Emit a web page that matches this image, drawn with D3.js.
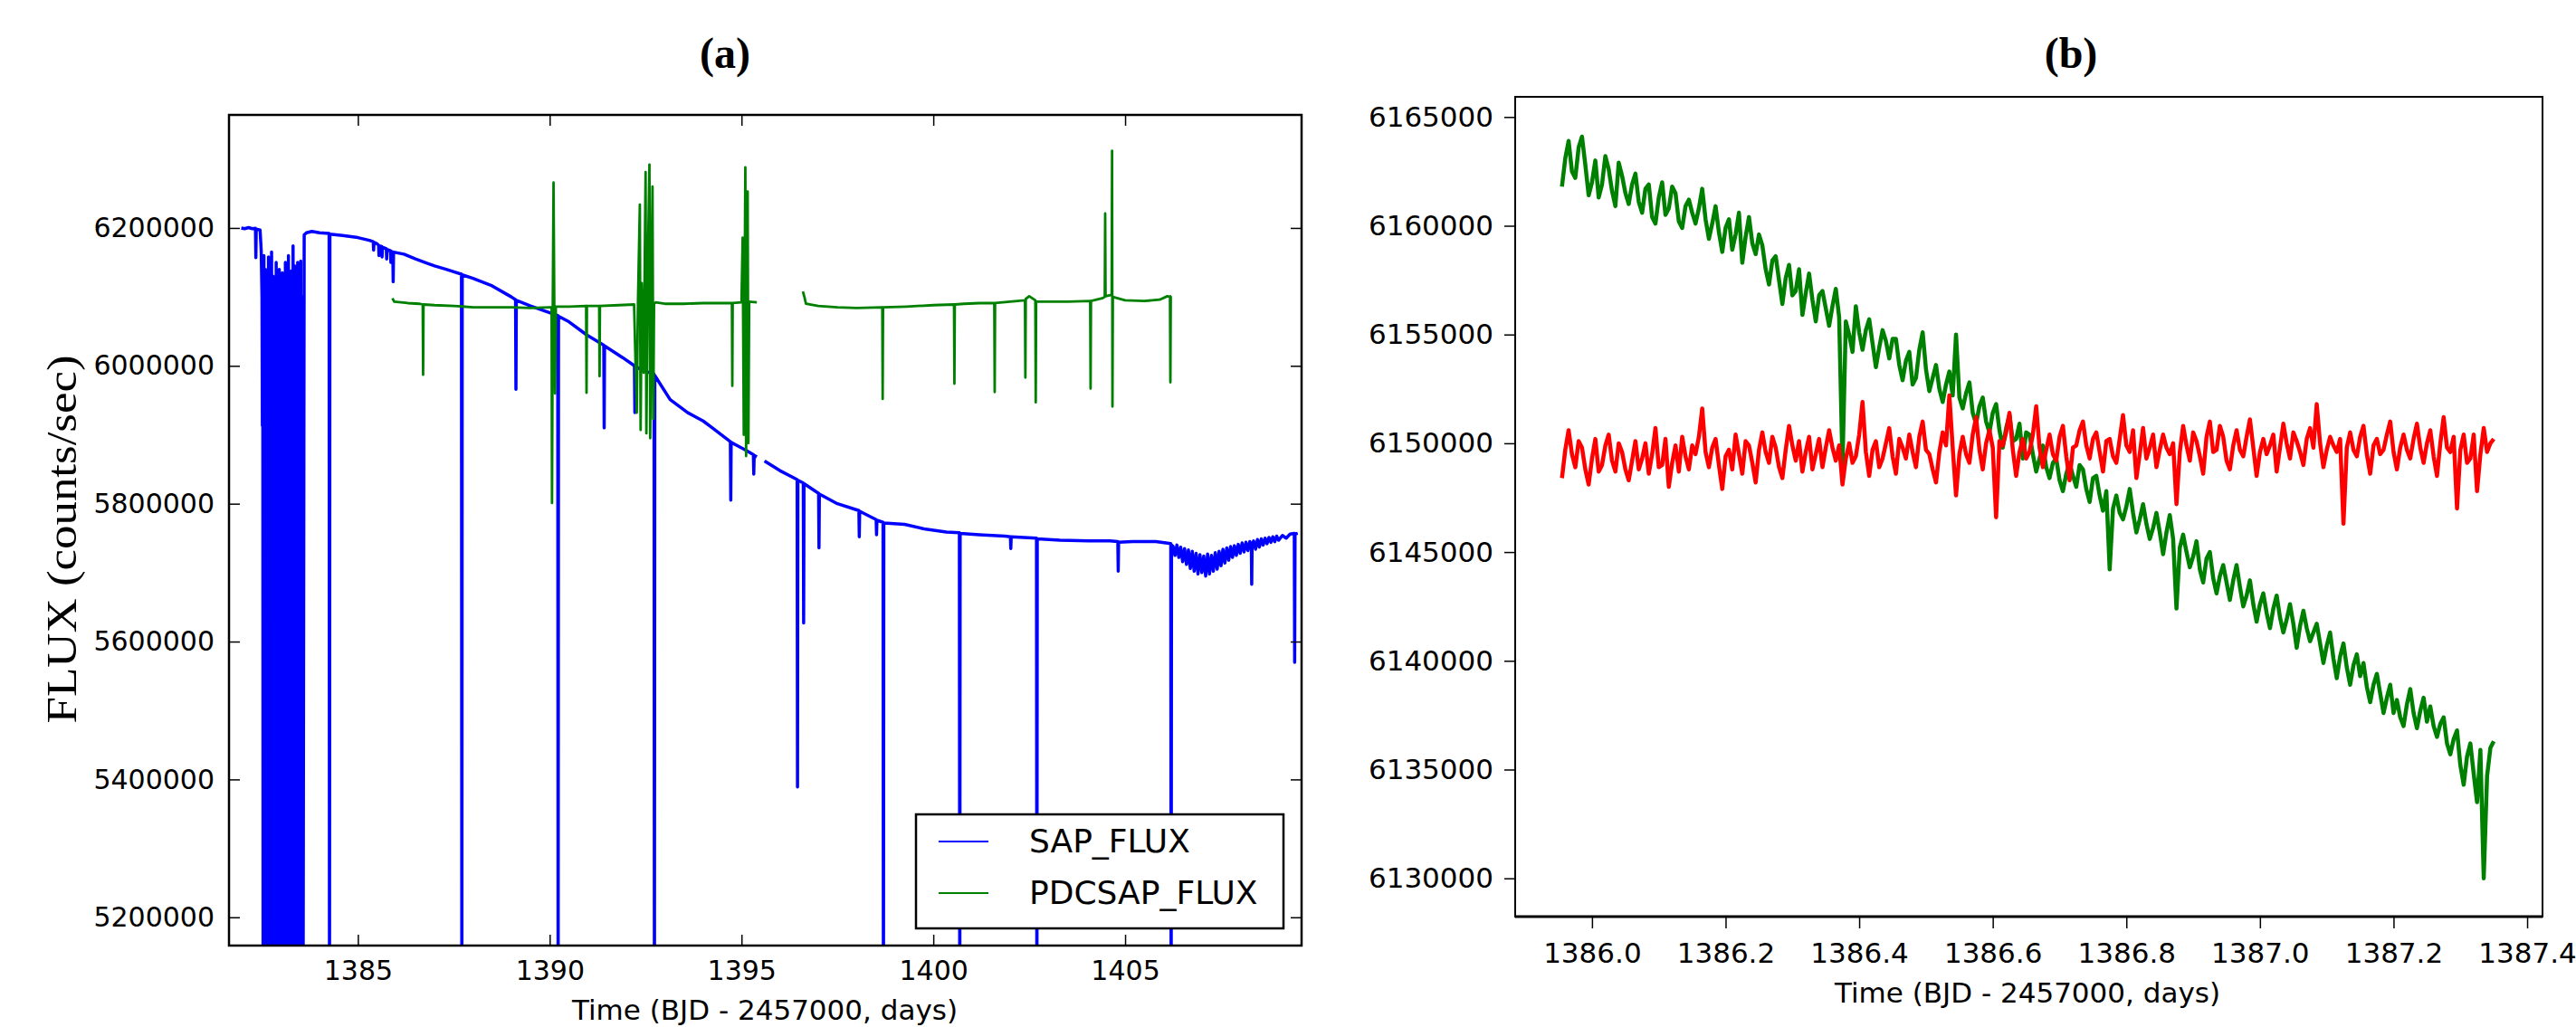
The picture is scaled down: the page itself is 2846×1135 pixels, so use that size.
<!DOCTYPE html>
<html>
<head>
<meta charset="utf-8">
<script src="https://cdn.jsdelivr.net/npm/d3@7"></script>
<style>
  body { margin: 0; background: #fff; }
  svg { display: block; }
</style>
</head>
<body>
<svg id="chart"></svg>
<script>
// ---- panel (a): full light curve, [time, flux] ----
const sapPoints = [
  [1381.96, 6200000], [1382.05, 6199000], [1382.15, 6200500], [1382.25, 6199000], [1382.33, 6199500],
  [1382.34, 6157000], [1382.35, 6198500], [1382.45, 6197000], [1382.48, 6167000], [1382.50, 6100000],
  [1382.51, 5913000], [1382.52, 6150000], [1382.53, 5000000], [1382.55, 6160000], [1382.57, 5000000],
  [1382.59, 6140000], [1382.61, 5000000], [1382.63, 6120000], [1382.65, 5000000], [1382.67, 6158000],
  [1382.69, 5000000], [1382.71, 6110000], [1382.73, 5000000], [1382.75, 6165000], [1382.77, 5000000],
  [1382.79, 6130000], [1382.81, 5000000], [1382.83, 6100000], [1382.85, 5000000], [1382.87, 6150000],
  [1382.89, 5000000], [1382.91, 6090000], [1382.93, 5000000], [1382.95, 6140000], [1382.97, 5000000],
  [1382.99, 6120000], [1383.01, 5000000], [1383.03, 6135000], [1383.05, 5000000], [1383.07, 6105000],
  [1383.09, 5000000], [1383.11, 6150000], [1383.13, 5000000], [1383.15, 6125000], [1383.17, 5000000],
  [1383.19, 6160000], [1383.21, 5000000], [1383.23, 6110000], [1383.25, 5000000], [1383.27, 6138000],
  [1383.29, 5000000], [1383.31, 6174000], [1383.33, 5000000], [1383.35, 6145000], [1383.37, 5000000],
  [1383.39, 6128000], [1383.41, 5000000], [1383.43, 6150000], [1383.45, 5000000], [1383.47, 6118000],
  [1383.49, 5000000], [1383.51, 6152000], [1383.53, 5000000], [1383.55, 6100000], [1383.57, 5000000],
  [1383.60, 6190000], [1383.66, 6193000], [1383.80, 6195000], [1384.00, 6193000], [1384.25, 6192000],
  [1384.26, 5000000], [1384.27, 6191000], [1384.60, 6189000], [1385.00, 6186000], [1385.30, 6182000],
  [1385.40, 6180000], [1385.41, 6168000], [1385.42, 6179000], [1385.50, 6177000], [1385.54, 6175000],
  [1385.55, 6160000], [1385.56, 6174000], [1385.62, 6173000], [1385.63, 6158000], [1385.64, 6172000],
  [1385.74, 6170000], [1385.75, 6155000], [1385.76, 6169000], [1385.85, 6167000], [1385.86, 6150000],
  [1385.87, 6166000], [1385.91, 6165000], [1385.92, 6122000], [1385.93, 6165000], [1386.20, 6162000],
  [1386.50, 6155000], [1386.80, 6149000], [1387.00, 6145000], [1387.30, 6140000], [1387.70, 6133000],
  [1387.71, 5000000], [1387.72, 6132000], [1388.00, 6127000], [1388.50, 6116000], [1389.00, 6100000],
  [1389.11, 6096000], [1389.12, 5966000], [1389.13, 6095000], [1389.50, 6087000], [1390.00, 6077000],
  [1390.21, 6073000], [1390.22, 5000000], [1390.23, 6072000], [1390.50, 6064000], [1390.96, 6045000],
  [1391.41, 6030000], [1391.42, 5910000], [1391.43, 6029000], [1391.90, 6012000], [1392.21, 6000000],
  [1392.22, 5932000], [1392.23, 5999000], [1392.50, 5992000], [1392.72, 5988000], [1392.73, 5000000],
  [1392.74, 5986000], [1393.14, 5951000], [1393.60, 5932000], [1394.00, 5920000], [1394.24, 5910000],
  [1394.71, 5890000], [1394.72, 5805000], [1394.73, 5889000], [1394.90, 5884000], [1395.10, 5878000],
  [1395.31, 5871000], [1395.32, 5843000], [1395.33, 5870000], [1395.40, 5868000], [1395.45, null],
  [1395.60, 5862000], [1396.00, 5848000], [1396.45, 5835000], [1396.46, 5389000], [1396.47, 5834000],
  [1396.61, 5830000], [1396.62, 5627000], [1396.63, 5829000], [1397.01, 5815000], [1397.02, 5736000],
  [1397.03, 5814000], [1397.50, 5800000], [1398.06, 5790000], [1398.07, 5752000], [1398.08, 5789000],
  [1398.51, 5777000], [1398.52, 5755000], [1398.53, 5776000], [1398.69, 5773000], [1398.70, 5000000],
  [1398.71, 5772000], [1399.25, 5770000], [1399.80, 5763000], [1400.34, 5759000], [1400.68, 5758000],
  [1400.69, 5000000], [1400.70, 5757000], [1401.20, 5755000], [1401.87, 5753000], [1402.01, 5752000],
  [1402.02, 5735000], [1402.03, 5752000], [1402.69, 5750000], [1402.70, 5000000], [1402.71, 5749000],
  [1403.30, 5747000], [1404.05, 5746000], [1404.60, 5746000], [1404.81, 5745000], [1404.82, 5702000],
  [1404.83, 5744000], [1405.20, 5745000], [1405.80, 5745000], [1406.19, 5742000], [1406.20, 5000000],
  [1406.21, 5740000], [1406.25, 5738000], [1406.30, 5725000], [1406.35, 5740000], [1406.40, 5722000],
  [1406.45, 5737000], [1406.50, 5716000], [1406.55, 5735000], [1406.60, 5712000], [1406.65, 5733000],
  [1406.70, 5706000], [1406.75, 5731000], [1406.80, 5702000], [1406.85, 5728000], [1406.90, 5698000],
  [1406.95, 5726000], [1407.00, 5700000], [1407.05, 5724000], [1407.10, 5695000], [1407.15, 5727000],
  [1407.20, 5698000], [1407.25, 5725000], [1407.30, 5702000], [1407.35, 5729000], [1407.40, 5705000],
  [1407.45, 5731000], [1407.50, 5710000], [1407.55, 5734000], [1407.60, 5714000], [1407.65, 5736000],
  [1407.70, 5718000], [1407.75, 5738000], [1407.80, 5722000], [1407.85, 5739000], [1407.90, 5725000],
  [1407.95, 5741000], [1408.00, 5728000], [1408.05, 5743000], [1408.10, 5730000], [1408.15, 5744000],
  [1408.20, 5732000], [1408.25, 5745000], [1408.29, 5740000], [1408.30, 5683000], [1408.31, 5740000],
  [1408.35, 5746000], [1408.40, 5734000], [1408.45, 5748000], [1408.50, 5737000], [1408.55, 5749000],
  [1408.60, 5740000], [1408.65, 5750000], [1408.70, 5742000], [1408.75, 5751000], [1408.80, 5744000],
  [1408.85, 5752000], [1408.90, 5745000], [1408.95, 5753000], [1409.00, 5747000], [1409.10, 5754000],
  [1409.20, 5750000], [1409.30, 5756000], [1409.41, 5757000], [1409.42, 5570000], [1409.43, 5756000],
  [1409.50, 5757000]
];
const pdcPoints = [
  [1385.90, 6098000], [1385.95, 6093000], [1386.30, 6091000], [1386.60, 6090000], [1386.69, 6089000],
  [1386.70, 5987000], [1386.71, 6089000], [1387.00, 6088000], [1387.50, 6087000], [1388.00, 6085000],
  [1388.50, 6085000], [1389.00, 6085000], [1389.50, 6084000], [1390.00, 6085000], [1390.05, 6085000],
  [1390.06, 5801000], [1390.08, 6085000], [1390.10, 6266000], [1390.12, 6086000], [1390.14, 5960000],
  [1390.16, 6086000], [1390.50, 6086000], [1390.95, 6087000], [1390.96, 5961000], [1390.97, 6087000],
  [1391.29, 6087000], [1391.30, 5985000], [1391.31, 6087000], [1391.80, 6088000], [1392.20, 6089000],
  [1392.27, 5932000], [1392.30, 6089000], [1392.35, 6234000], [1392.37, 5907000], [1392.40, 6120000],
  [1392.45, 5990000], [1392.50, 6281000], [1392.52, 5902000], [1392.56, 6150000], [1392.60, 6292000],
  [1392.62, 5895000], [1392.65, 6100000], [1392.68, 6260000], [1392.70, 5923000], [1392.72, 6090000],
  [1392.76, 6092000], [1393.00, 6090000], [1393.50, 6090000], [1394.00, 6091000], [1394.50, 6091000],
  [1394.75, 6091000], [1394.76, 5971000], [1394.77, 6091000], [1395.00, 6092000], [1395.03, 6186000],
  [1395.06, 5900000], [1395.10, 6288000], [1395.12, 5869000], [1395.16, 6253000], [1395.18, 5888000],
  [1395.20, 6093000], [1395.40, 6092000], [1396.00, null], [1396.60, 6108000], [1396.64, 6100000],
  [1396.68, 6090000], [1397.00, 6087000], [1397.50, 6085000], [1398.00, 6084000], [1398.67, 6085000],
  [1398.68, 5952000], [1398.69, 6085000], [1399.30, 6086000], [1400.00, 6088000], [1400.54, 6089000],
  [1400.55, 5974000], [1400.56, 6089000], [1400.80, 6090000], [1401.20, 6091000], [1401.59, 6091000],
  [1401.60, 5962000], [1401.61, 6091000], [1402.00, 6093000], [1402.39, 6095000], [1402.40, 5983000],
  [1402.41, 6097000], [1402.50, 6101000], [1402.66, 6095000], [1402.67, 5947000], [1402.68, 6093000],
  [1403.00, 6093000], [1403.50, 6093000], [1404.09, 6094000], [1404.10, 5967000], [1404.11, 6094000],
  [1404.40, 6098000], [1404.47, 6100000], [1404.48, 6221000], [1404.49, 6101000], [1404.65, 6103000],
  [1404.66, 6312000], [1404.67, 5941000], [1404.68, 6100000], [1405.00, 6095000], [1405.50, 6094000],
  [1405.90, 6096000], [1406.10, 6101000], [1406.17, 6100000], [1406.18, 5976000], [1406.19, 6101000],
  [1406.20, 6101000]
];
const aTicksX = [1385, 1390, 1395, 1400, 1405];
const aTicksY = [5200000, 5400000, 5600000, 5800000, 6000000, 6200000];
const legendLabels = ["SAP_FLUX", "PDCSAP_FLUX"];

// ---- panel (b): zoom on one day ----
const zoomTime = [
  1385.955, 1385.960, 1385.965, 1385.970, 1385.975, 1385.980, 1385.985, 1385.990, 1385.995, 1386.000,
  1386.005, 1386.010, 1386.015, 1386.020, 1386.025, 1386.030, 1386.035, 1386.040, 1386.045, 1386.050,
  1386.055, 1386.060, 1386.065, 1386.070, 1386.075, 1386.080, 1386.085, 1386.090, 1386.095, 1386.100,
  1386.105, 1386.110, 1386.115, 1386.120, 1386.125, 1386.130, 1386.135, 1386.140, 1386.145, 1386.150,
  1386.155, 1386.160, 1386.165, 1386.170, 1386.175, 1386.180, 1386.185, 1386.190, 1386.195, 1386.200,
  1386.205, 1386.210, 1386.215, 1386.220, 1386.225, 1386.230, 1386.235, 1386.240, 1386.245, 1386.250,
  1386.255, 1386.260, 1386.265, 1386.270, 1386.275, 1386.280, 1386.285, 1386.290, 1386.295, 1386.300,
  1386.305, 1386.310, 1386.315, 1386.320, 1386.325, 1386.330, 1386.335, 1386.340, 1386.345, 1386.350,
  1386.355, 1386.360, 1386.365, 1386.370, 1386.375, 1386.380, 1386.385, 1386.390, 1386.395, 1386.400,
  1386.405, 1386.410, 1386.415, 1386.420, 1386.425, 1386.430, 1386.435, 1386.440, 1386.445, 1386.450,
  1386.455, 1386.460, 1386.465, 1386.470, 1386.475, 1386.480, 1386.485, 1386.490, 1386.495, 1386.500,
  1386.505, 1386.510, 1386.515, 1386.520, 1386.525, 1386.530, 1386.535, 1386.540, 1386.545, 1386.550,
  1386.555, 1386.560, 1386.565, 1386.570, 1386.575, 1386.580, 1386.585, 1386.590, 1386.595, 1386.600,
  1386.605, 1386.610, 1386.615, 1386.620, 1386.625, 1386.630, 1386.635, 1386.640, 1386.645, 1386.650,
  1386.655, 1386.660, 1386.665, 1386.670, 1386.675, 1386.680, 1386.685, 1386.690, 1386.695, 1386.700,
  1386.705, 1386.710, 1386.715, 1386.720, 1386.725, 1386.730, 1386.735, 1386.740, 1386.745, 1386.750,
  1386.755, 1386.760, 1386.765, 1386.770, 1386.775, 1386.780, 1386.785, 1386.790, 1386.795, 1386.800,
  1386.805, 1386.810, 1386.815, 1386.820, 1386.825, 1386.830, 1386.835, 1386.840, 1386.845, 1386.850,
  1386.855, 1386.860, 1386.865, 1386.870, 1386.875, 1386.880, 1386.885, 1386.890, 1386.895, 1386.900,
  1386.905, 1386.910, 1386.915, 1386.920, 1386.925, 1386.930, 1386.935, 1386.940, 1386.945, 1386.950,
  1386.955, 1386.960, 1386.965, 1386.970, 1386.975, 1386.980, 1386.985, 1386.990, 1386.995, 1387.000,
  1387.005, 1387.010, 1387.015, 1387.020, 1387.025, 1387.030, 1387.035, 1387.040, 1387.045, 1387.050,
  1387.055, 1387.060, 1387.065, 1387.070, 1387.075, 1387.080, 1387.085, 1387.090, 1387.095, 1387.100,
  1387.105, 1387.110, 1387.115, 1387.120, 1387.125, 1387.130, 1387.135, 1387.140, 1387.145, 1387.150,
  1387.155, 1387.160, 1387.165, 1387.170, 1387.175, 1387.180, 1387.185, 1387.190, 1387.195, 1387.200,
  1387.205, 1387.210, 1387.215, 1387.220, 1387.225, 1387.230, 1387.235, 1387.240, 1387.245, 1387.250,
  1387.255, 1387.260, 1387.265, 1387.270, 1387.275, 1387.280, 1387.285, 1387.290, 1387.295, 1387.300,
  1387.305, 1387.310, 1387.315, 1387.320, 1387.325, 1387.330, 1387.335, 1387.340, 1387.345, 1387.350
];
const zoomGreen = [
  6161800, 6163100, 6163900, 6162500, 6162200, 6163600, 6164100, 6162800, 6161400, 6162000,
  6163000, 6161300, 6161900, 6163200, 6162600, 6161600, 6160900, 6162900, 6162300, 6161500,
  6161000, 6161900, 6162400, 6161100, 6160600, 6161700, 6161900, 6160400, 6160100, 6161300,
  6162000, 6160500, 6160800, 6161800, 6161500, 6160200, 6159900, 6160900, 6161200, 6160600,
  6160100, 6160800, 6161700, 6160300, 6159400, 6160100, 6160900, 6159700, 6158800, 6159900,
  6160300, 6158900, 6159600, 6160600, 6158300, 6159500, 6160400, 6159200, 6158700, 6159600,
  6159100, 6158000, 6157300, 6158400, 6158600, 6157500, 6156400, 6157600, 6158200, 6156800,
  6157000, 6158000, 6155900, 6156900, 6157800, 6156600, 6155600, 6156800, 6157000, 6156200,
  6155400, 6156300, 6157100, 6155800, 6149000, 6155600, 6155000, 6154200, 6156300, 6155100,
  6154300, 6155200, 6155700, 6154600, 6153500, 6154400, 6155200, 6154700, 6153900, 6154800,
  6154800, 6153600, 6152900, 6153800, 6154200, 6152700, 6153000, 6154300, 6155100, 6153400,
  6152400, 6153000, 6153600, 6152500, 6151900, 6152700, 6153300, 6152200, 6155000, 6152100,
  6151600, 6152300, 6152800, 6151400, 6150900, 6151700, 6152100, 6151000, 6150500, 6151400,
  6151800, 6150600, 6149800, 6150700, 6151300, 6150100, 6150200, 6150900, 6149300, 6150500,
  6150400, 6149500, 6148700, 6149300, 6149900, 6148900, 6148400, 6149100, 6149300, 6148300,
  6147800, 6148600, 6149100, 6148500, 6148000, 6149000, 6148800, 6147900, 6147300, 6148400,
  6148500, 6147600, 6146900, 6147800, 6144200, 6147000, 6147600, 6146800, 6146500, 6147100,
  6147900, 6146800, 6145900, 6146500, 6147200, 6146300, 6145600, 6146100, 6146800, 6145900,
  6144900, 6145900, 6146700, 6145600, 6142400, 6145200, 6145800, 6145000, 6144300, 6144800,
  6145500, 6144200, 6143600, 6144700, 6145000, 6143800, 6143100, 6143900, 6144400, 6143600,
  6142800, 6143700, 6144400, 6143400, 6142500, 6143000, 6143700, 6142600, 6141800, 6142600,
  6143100, 6142200, 6141500, 6142400, 6143000, 6142000, 6141300, 6141900, 6142600, 6141700,
  6140600, 6141600, 6142300, 6141500, 6140900, 6141300, 6141700, 6140800, 6139900, 6140700,
  6141300, 6140100, 6139200, 6140200, 6140800, 6139700, 6138900, 6139800, 6140300, 6139300,
  6139900, 6138800, 6138100, 6138900, 6139400, 6138500, 6137600, 6138300, 6138900, 6137600,
  6138200, 6137400, 6137000, 6138000, 6138700, 6137600, 6136900, 6137700, 6138300, 6137200,
  6137900, 6137000, 6136500, 6137100, 6137400, 6136200, 6135700, 6136400, 6136800, 6135200,
  6134300, 6135600, 6136200, 6134800, 6133500, 6135900, 6130000, 6134700, 6136000, 6136300
];
const zoomRed = [
  6148400, 6149700, 6150600, 6149500, 6148900, 6150100, 6149800, 6148800, 6148100, 6149300,
  6150200, 6148700, 6149000, 6149900, 6150400, 6149200, 6148700, 6150000, 6149600, 6148800,
  6148300, 6149200, 6150100, 6148800, 6149300, 6150000, 6148600, 6149500, 6150700, 6148900,
  6149000, 6150200, 6148000, 6149100, 6149900, 6148700, 6150300, 6149400, 6148800, 6149900,
  6149500, 6150300, 6151600, 6149600, 6148900, 6149800, 6150200, 6149000, 6147900, 6149400,
  6149700, 6148800, 6150400, 6149500, 6148600, 6150100, 6149900, 6149100, 6148200, 6149700,
  6150500, 6149600, 6149100, 6150300, 6149800, 6148900, 6148400, 6149700, 6150800, 6149900,
  6149200, 6150100, 6148700, 6149600, 6150300, 6148800, 6149500, 6150200, 6148900, 6149800,
  6150600, 6149800, 6149200, 6149900, 6148100, 6149300, 6150000, 6149100, 6149400, 6150400,
  6151900, 6149600, 6148500, 6149700, 6150100, 6148900, 6149300, 6150000, 6150700, 6149400,
  6148600, 6150200, 6149800, 6149300, 6150400, 6149600, 6148900, 6150300, 6151000, 6149700,
  6149500, 6148800, 6148200, 6149600, 6150500, 6149900, 6152200, 6149800, 6147600, 6149500,
  6150300, 6149500, 6149100, 6150400, 6151200, 6149700, 6148800, 6150000, 6150600, 6149800,
  6146600, 6150100, 6149900, 6150500, 6151400, 6149700, 6148500, 6149600, 6150200, 6149300,
  6149600, 6150400, 6151700, 6149800, 6148900, 6149700, 6150400, 6149500, 6149200, 6150300,
  6150800, 6149400, 6148300, 6149800, 6149900, 6150600, 6151000, 6149900, 6149300, 6150200,
  6150500, 6149600, 6148700, 6150100, 6150200, 6149400, 6149100, 6150200, 6151300, 6149900,
  6149600, 6150600, 6148400, 6149500, 6150700, 6149300, 6149800, 6150400, 6148900, 6149700,
  6150400, 6149800, 6149500, 6150000, 6147200, 6149600, 6150800, 6149900, 6149200, 6150500,
  6150100, 6149400, 6148600, 6150300, 6151000, 6149600, 6149700, 6150800, 6150300, 6149200,
  6148800, 6149900, 6150600, 6149700, 6149400, 6150300, 6151100, 6149800, 6148500, 6149600,
  6150200, 6149500, 6149900, 6150400, 6148700, 6149800, 6150900, 6150000, 6149300, 6150500,
  6150100, 6149600, 6149000, 6150200, 6150700, 6149800, 6151800, 6150000, 6148900, 6149700,
  6150300, 6149900, 6149600, 6150200, 6146300, 6149800, 6150500, 6149700, 6149400, 6150300,
  6150800, 6149500, 6148600, 6149900, 6150200, 6149500, 6149700, 6150400, 6151000, 6149600,
  6148800, 6149800, 6150400, 6149700, 6149300, 6150200, 6150900, 6149800, 6149100, 6150000,
  6150600, 6149400, 6148500, 6150000, 6151200, 6149800, 6149600, 6150300, 6147000, 6149700,
  6150400, 6149100, 6149300, 6150400, 6147800, 6149500, 6150700, 6149600, 6150000, 6150200
];
const bTicksX = [1386.0, 1386.2, 1386.4, 1386.6, 1386.8, 1387.0, 1387.2, 1387.4];
const bTicksY = [6130000, 6135000, 6140000, 6145000, 6150000, 6155000, 6160000, 6165000];

const width = 2846;
const height = 1135;
const tickFont = "'DejaVu Sans', 'Liberation Sans', sans-serif";
const serifFont = "'Liberation Serif', 'Times New Roman', serif";

const svg = d3.select("#chart")
  .attr("width", width)
  .attr("height", height)
  .style("background", "#fff");

function styleAxis(g, fontSize) {
  g.select(".domain").remove();
  g.selectAll(".tick line").attr("stroke", "#000").attr("stroke-width", 1.5);
  g.selectAll(".tick text")
    .attr("fill", "#000")
    .style("font-family", tickFont)
    .style("font-size", fontSize + "px");
}

// ================= panel (a) =================
const a = { left: 253, right: 1438, top: 127, bottom: 1045 };

const xA = d3.scaleLinear().domain([1381.64, 1409.6]).range([a.left, a.right]);
const yA = d3.scaleLinear().domain([5159000, 6364000]).range([a.bottom, a.top]);

svg.append("clipPath").attr("id", "clipA")
  .append("rect")
  .attr("x", a.left).attr("y", a.top)
  .attr("width", a.right - a.left).attr("height", a.bottom - a.top);

const lineA = d3.line()
  .defined(d => d[1] !== null)
  .x(d => xA(d[0]))
  .y(d => yA(d[1]));

svg.append("path")
  .datum(sapPoints)
  .attr("clip-path", "url(#clipA)")
  .attr("fill", "none")
  .attr("stroke", "#0000ff")
  .attr("stroke-width", 3.5)
  .attr("stroke-linejoin", "round")
  .attr("d", lineA);

svg.append("path")
  .datum(pdcPoints)
  .attr("clip-path", "url(#clipA)")
  .attr("fill", "none")
  .attr("stroke", "#008000")
  .attr("stroke-width", 2.8)
  .attr("stroke-linejoin", "round")
  .attr("d", lineA);

// inward ticks on all four sides
svg.append("g")
  .attr("transform", `translate(0,${a.bottom})`)
  .call(d3.axisBottom(xA).tickValues(aTicksX).tickFormat(d3.format("d"))
    .tickSizeInner(-12).tickSizeOuter(0).tickPadding(17))
  .call(g => styleAxis(g, 30));

svg.append("g")
  .attr("transform", `translate(0,${a.top})`)
  .call(d3.axisTop(xA).tickValues(aTicksX).tickFormat("")
    .tickSizeInner(-12).tickSizeOuter(0))
  .call(g => styleAxis(g, 30));

svg.append("g")
  .attr("transform", `translate(${a.left},0)`)
  .call(d3.axisLeft(yA).tickValues(aTicksY).tickFormat(d3.format("d"))
    .tickSizeInner(-12).tickSizeOuter(0).tickPadding(16))
  .call(g => styleAxis(g, 30));

svg.append("g")
  .attr("transform", `translate(${a.right},0)`)
  .call(d3.axisRight(yA).tickValues(aTicksY).tickFormat("")
    .tickSizeInner(-12).tickSizeOuter(0))
  .call(g => styleAxis(g, 30));

svg.append("rect")
  .attr("x", a.left).attr("y", a.top)
  .attr("width", a.right - a.left).attr("height", a.bottom - a.top)
  .attr("fill", "none")
  .attr("stroke", "#000")
  .attr("stroke-width", 2.5);

// legend
const legend = svg.append("g");
legend.append("rect")
  .attr("x", 1012).attr("y", 900)
  .attr("width", 406).attr("height", 126)
  .attr("fill", "#fff")
  .attr("stroke", "#000")
  .attr("stroke-width", 2.5);

const legendColors = ["#0000ff", "#008000"];
legendLabels.forEach((label, i) => {
  const y = 930 + i * 57;
  legend.append("line")
    .attr("x1", 1037).attr("x2", 1092)
    .attr("y1", y).attr("y2", y)
    .attr("stroke", legendColors[i])
    .attr("stroke-width", 1.8);
  legend.append("text")
    .attr("x", 1137).attr("y", y + 12)
    .style("font-family", tickFont)
    .style("font-size", "36px")
    .attr("fill", "#000")
    .text(label);
});

svg.append("text")
  .attr("x", 845).attr("y", 1127)
  .attr("text-anchor", "middle")
  .style("font-family", tickFont)
  .style("font-size", "31px")
  .text("Time (BJD - 2457000, days)");

svg.append("text")
  .attr("transform", "translate(84,596) rotate(-90)")
  .attr("text-anchor", "middle")
  .attr("textLength", 407)
  .attr("lengthAdjust", "spacingAndGlyphs")
  .style("font-family", serifFont)
  .style("font-size", "46px")
  .text("FLUX (counts/sec)");

svg.append("text")
  .attr("x", 801).attr("y", 75)
  .attr("text-anchor", "middle")
  .style("font-family", serifFont)
  .style("font-weight", "bold")
  .style("font-size", "48px")
  .text("(a)");

// ================= panel (b) =================
const b = { left: 1674, right: 2809, top: 107, bottom: 1013 };

const xB = d3.scaleLinear().domain([1385.885, 1387.423]).range([b.left, b.right]);
const yB = d3.scaleLinear().domain([6128240, 6165928]).range([b.bottom, b.top]);

svg.append("clipPath").attr("id", "clipB")
  .append("rect")
  .attr("x", b.left).attr("y", b.top)
  .attr("width", b.right - b.left).attr("height", b.bottom - b.top);

const lineB = d3.line()
  .x(d => xB(d[0]))
  .y(d => yB(d[1]));

svg.append("path")
  .datum(d3.zip(zoomTime, zoomGreen))
  .attr("clip-path", "url(#clipB)")
  .attr("fill", "none")
  .attr("stroke", "#008000")
  .attr("stroke-width", 4.5)
  .attr("stroke-linejoin", "round")
  .attr("d", lineB);

svg.append("path")
  .datum(d3.zip(zoomTime, zoomRed))
  .attr("clip-path", "url(#clipB)")
  .attr("fill", "none")
  .attr("stroke", "#ff0000")
  .attr("stroke-width", 4.5)
  .attr("stroke-linejoin", "round")
  .attr("d", lineB);

svg.append("g")
  .attr("transform", `translate(0,${b.bottom})`)
  .call(d3.axisBottom(xB).tickValues(bTicksX).tickFormat(d3.format(".1f"))
    .tickSizeInner(13).tickSizeOuter(0).tickPadding(16))
  .call(g => styleAxis(g, 31));

svg.append("g")
  .attr("transform", `translate(${b.left},0)`)
  .call(d3.axisLeft(yB).tickValues(bTicksY).tickFormat(d3.format("d"))
    .tickSizeInner(12).tickSizeOuter(0).tickPadding(12))
  .call(g => styleAxis(g, 31));

svg.append("rect")
  .attr("x", b.left).attr("y", b.top)
  .attr("width", b.right - b.left).attr("height", b.bottom - b.top)
  .attr("fill", "none")
  .attr("stroke", "#000")
  .attr("stroke-width", 2);

svg.append("line")
  .attr("x1", b.left).attr("x2", b.right)
  .attr("y1", b.bottom).attr("y2", b.bottom)
  .attr("stroke", "#000")
  .attr("stroke-width", 3);

svg.append("text")
  .attr("x", 2240).attr("y", 1108)
  .attr("text-anchor", "middle")
  .style("font-family", tickFont)
  .style("font-size", "31px")
  .text("Time (BJD - 2457000, days)");

svg.append("text")
  .attr("x", 2288).attr("y", 75)
  .attr("text-anchor", "middle")
  .style("font-family", serifFont)
  .style("font-weight", "bold")
  .style("font-size", "48px")
  .text("(b)");
</script>
</body>
</html>
